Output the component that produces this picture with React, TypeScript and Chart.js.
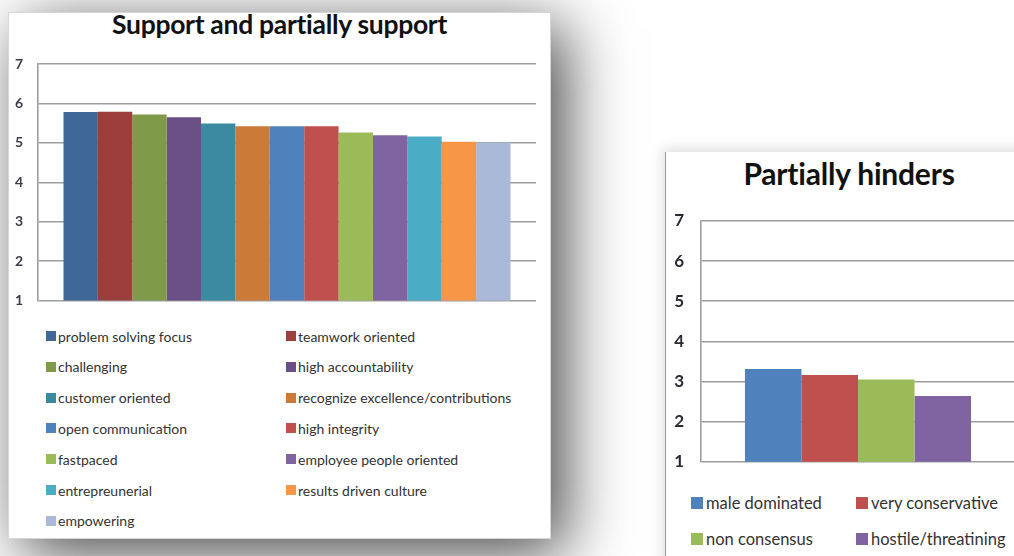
import React, { useEffect, useRef } from "react";
import { Chart, registerables } from "chart.js";

Chart.register(...registerables);

// ---------- data ----------
const supportTitle = "Support and partially support";
const supportCategories = [
  "problem solving focus",
  "teamwork oriented",
  "challenging",
  "high accountability",
  "customer oriented",
  "recognize excellence/contributions",
  "open communication",
  "high integrity",
  "fastpaced",
  "employee people oriented",
  "entrepreunerial",
  "results driven culture",
  "empowering",
];
const supportValues = [5.78, 5.79, 5.72, 5.65, 5.49, 5.42, 5.42, 5.42, 5.26, 5.19, 5.16, 5.03, 5.01];
const supportColors = [
  "#3F6898", "#9C3F3C", "#7F9A48", "#6A5086", "#3B8AA1", "#CB7A37",
  "#4F81BD", "#C0504D", "#9BBB59", "#8064A2", "#4BACC6", "#F79646", "#A9B9D7",
];

const hinderTitle = "Partially hinders";
const hinderCategories = ["male dominated", "very conservative", "non consensus", "hostile/threatining"];
const hinderValues = [3.31, 3.16, 3.05, 2.64];
const hinderColors = ["#4F81BD", "#C0504D", "#9BBB59", "#8064A2"];

const yMin = 1;
const yMax = 7;
const yStep = 1;

const FONT = "Lato, 'Open Sans', 'DejaVu Sans', sans-serif";
const GRID = "#9e9e9e";

type Cfg = {
  categories: string[];
  values: number[];
  colors: string[];
  width: number;
  height: number;
  padTop: number;
  padRight: number;
  padBottom: number;
  axisWidth: number;
  tickPad: number;
  tickFont: { size: number; weight: string };
  tickColor: string;
  categoryPercentage: number;
};

function BarChart(cfg: Cfg) {
  const ref = useRef<HTMLCanvasElement | null>(null);
  useEffect(() => {
    if (!ref.current) return;
    const chart = new Chart(ref.current, {
      type: "bar",
      data: {
        labels: [""],
        datasets: cfg.categories.map((c, i) => ({
          label: c,
          data: [cfg.values[i]],
          backgroundColor: cfg.colors[i],
          borderWidth: 0,
          categoryPercentage: cfg.categoryPercentage,
          barPercentage: 1,
        })),
      },
      options: {
        responsive: false,
        maintainAspectRatio: false,
        animation: false,
        layout: { padding: { top: cfg.padTop, right: cfg.padRight, bottom: cfg.padBottom, left: 0 } },
        plugins: {
          legend: { display: false },
          title: { display: false },
          tooltip: { enabled: false },
        },
        scales: {
          x: { display: false, offset: true, grid: { display: false } },
          y: {
            min: yMin,
            max: yMax,
            ticks: {
              stepSize: yStep,
              padding: cfg.tickPad,
              color: cfg.tickColor,
              font: { family: FONT, size: cfg.tickFont.size, weight: cfg.tickFont.weight as any },
            },
            grid: { color: GRID, lineWidth: 1.6, drawTicks: false },
            border: { display: true, color: GRID, width: 1.6 },
            afterFit: (s: any) => {
              s.width = cfg.axisWidth;
            },
          },
        },
      } as any,
    });
    return () => chart.destroy();
  }, []);
  return <canvas ref={ref} width={cfg.width} height={cfg.height} style={{ width: cfg.width, height: cfg.height, display: "block" }} />;
}

function Legend(props: {
  categories: string[];
  colors: string[];
  colX: number[];
  rowY0: number;
  rowGap: number;
  box: number;
  fontSize: number;
  textGap: number;
}) {
  const { categories, colors, colX, rowY0, rowGap, box, fontSize, textGap } = props;
  return (
    <>
      {categories.map((c, i) => {
        const col = i % colX.length;
        const row = Math.floor(i / colX.length);
        const cy = rowY0 + row * rowGap;
        return (
          <div
            key={c}
            style={{
              position: "absolute",
              left: colX[col],
              top: cy - 12,
              height: 24,
              display: "flex",
              alignItems: "center",
              whiteSpace: "nowrap",
              fontFamily: FONT,
              fontSize,
              color: "#333333",
            }}
          >
            <span style={{ display: "inline-block", width: box, height: box, background: colors[i], marginRight: textGap }} />
            <span>{c}</span>
          </div>
        );
      })}
    </>
  );
}

export default function App() {
  return (
    <div
      style={{
        position: "fixed",
        left: 0,
        top: 0,
        width: 1014,
        height: 556,
        overflow: "hidden",
        background: "#ffffff",
      }}
    >
      {/* Left panel */}
      <div
        style={{
          position: "absolute",
          left: 8,
          top: 12,
          width: 543,
          height: 527,
          background: "#fff",
          boxSizing: "border-box",
          border: "1px solid #d6d6d6",
          boxShadow: "14px 14px 60px rgba(0,0,0,0.72)",
        }}
      />
      <div
        style={{
          position: "absolute",
          left: 8,
          top: 8,
          width: 543,
          textAlign: "center",
          fontFamily: FONT,
          fontWeight: "bold",
          fontSize: 26.5,
          color: "#111",
          letterSpacing: -0.3,
        }}
      >
        {supportTitle}
      </div>
      <div style={{ position: "absolute", left: 8, top: 12 }}>
        <BarChart
          categories={supportCategories}
          values={supportValues}
          colors={supportColors}
          width={543}
          height={312}
          padTop={52}
          padRight={15}
          padBottom={11}
          axisWidth={30}
          tickPad={15}
          tickFont={{ size: 14, weight: "bold" }}
          tickColor="#3b3b4a"
          categoryPercentage={0.8976}
        />
      </div>
      <Legend
        categories={supportCategories}
        colors={supportColors}
        colX={[46, 286]}
        rowY0={336}
        rowGap={30.8}
        box={10}
        fontSize={14}
        textGap={2}
      />

      {/* Right panel */}
      <div
        style={{
          position: "absolute",
          left: 665,
          top: 152,
          width: 400,
          height: 450,
          background: "#fff",
          boxSizing: "border-box",
          borderLeft: "1px solid #9a9a9a",
          boxShadow: "-3px -4px 12px rgba(0,0,0,0.12)",
        }}
      />
      <div
        style={{
          position: "absolute",
          left: 665,
          top: 155,
          width: 368,
          textAlign: "center",
          fontFamily: FONT,
          fontWeight: "bold",
          fontSize: 30,
          color: "#111",
          letterSpacing: -0.2,
        }}
      >
        {hinderTitle}
      </div>
      <div style={{ position: "absolute", left: 665, top: 152 }}>
        <BarChart
          categories={hinderCategories}
          values={hinderValues}
          colors={hinderColors}
          width={360}
          height={337}
          padTop={69}
          padRight={10}
          padBottom={11}
          axisWidth={36}
          tickPad={17}
          tickFont={{ size: 17, weight: "bold" }}
          tickColor="#2a2a33"
          categoryPercentage={0.72}
        />
      </div>
      <Legend
        categories={hinderCategories}
        colors={hinderColors}
        colX={[691, 856]}
        rowY0={503}
        rowGap={36}
        box={12}
        fontSize={16.5}
        textGap={3}
      />
    </div>
  );
}
